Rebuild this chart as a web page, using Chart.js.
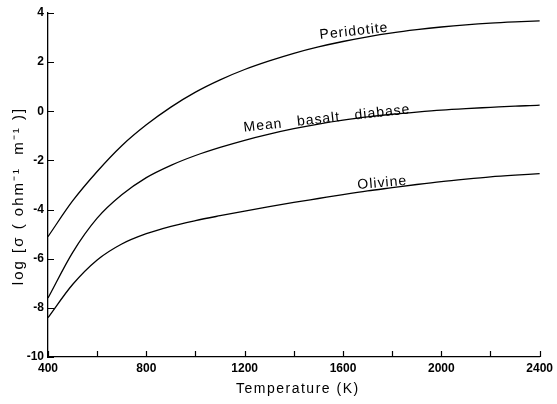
<!DOCTYPE html>
<html>
<head>
<meta charset="utf-8">
<script src="https://cdn.jsdelivr.net/npm/chart.js@4.4.1/dist/chart.umd.min.js"></script>
<style>
  html, body { margin: 0; padding: 0; background: #fff; }
  #wrap { width: 557px; height: 404px; }
</style>
</head>
<body>
<div id="wrap"><canvas id="condChart"></canvas></div>
<script>
// Temperature (K) and log conductivity
var temps = [400, 500, 600, 700, 800, 900, 1000, 1100, 1200, 1300, 1400, 1500, 1600, 1700, 1800, 1900, 2000, 2100, 2200, 2300, 2400, 2430];
var peridotite = [-5.1, -3.65, -2.45, -1.4, -0.55, 0.17, 0.78, 1.28, 1.7, 2.05, 2.36, 2.62, 2.84, 3.03, 3.19, 3.32, 3.43, 3.52, 3.59, 3.64, 3.68, 3.69];
var basalt = [-7.6, -5.75, -4.35, -3.4, -2.7, -2.2, -1.8, -1.47, -1.18, -0.93, -0.71, -0.52, -0.36, -0.23, -0.12, -0.03, 0.05, 0.11, 0.16, 0.21, 0.25, 0.27];
var olivine = [-8.4, -7.05, -6.05, -5.4, -4.98, -4.68, -4.45, -4.25, -4.06, -3.88, -3.71, -3.55, -3.39, -3.24, -3.11, -2.98, -2.86, -2.76, -2.67, -2.6, -2.54, -2.52];

// curve labels: text, temperature, value (centre of text), angle (deg)
var curveLabels = [
  { text: "Peridotite", t: 1645, v: 3.25, angle: -6.3 },
  { text: "Mean   basalt   diabase", t: 1535, v: -0.3, angle: -6.3 },
  { text: "Olivine", t: 1760, v: -2.92, angle: -5 }
];

var xTitle = "Temperature (K)";
var yTitle = "log [σ ( ohm⁻¹  m⁻¹ )]";

function toPoints(vals) {
  return temps.map(function (t, i) { return { x: t, y: vals[i] }; });
}

var fontFam = "'Liberation Sans', Arial, sans-serif";
var tickFont = { family: fontFam, size: 12, weight: 'bold' };

// inward tick marks, curve names and axis titles
var extras = {
  id: 'extras',
  afterDraw: function (chart) {
    var c = chart.ctx, xs = chart.scales.x, ys = chart.scales.y;
    var area = chart.chartArea;
    c.save();
    c.strokeStyle = '#000';
    c.lineWidth = 1.2;
    c.beginPath();
    xs.ticks.forEach(function (tk) {
      var px = Math.round(xs.getPixelForValue(tk.value)) + 0.5;
      c.moveTo(px, area.bottom);
      c.lineTo(px, area.bottom - 6);
    });
    ys.ticks.forEach(function (tk) {
      var py = Math.round(ys.getPixelForValue(tk.value)) + 0.5;
      c.moveTo(area.left, py);
      c.lineTo(area.left + 6, py);
    });
    c.stroke();

    c.fillStyle = '#000';
    c.font = "14px " + fontFam;
    c.letterSpacing = '1px';
    c.textAlign = 'center';
    c.textBaseline = 'middle';
    curveLabels.forEach(function (lb) {
      c.save();
      c.translate(xs.getPixelForValue(lb.t), ys.getPixelForValue(lb.v));
      c.rotate(lb.angle * Math.PI / 180);
      c.fillText(lb.text, 0, 0);
      c.restore();
    });

    c.letterSpacing = '1.5px';
    c.fillText(xTitle, (area.left + area.right) / 2 + 4, 389);
    c.letterSpacing = '2px';
    c.font = "15px " + fontFam;
    c.save();
    c.translate(19, 196);
    c.rotate(-Math.PI / 2);
    c.fillText(yTitle, 0, 0);
    c.restore();
    c.restore();
  }
};

var ctx = document.getElementById("condChart");

var condChart = new Chart(ctx, {
  type: 'line',
  data: {
    datasets: [
      { data: toPoints(peridotite), label: "Peridotite" },
      { data: toPoints(basalt), label: "Mean basalt diabase" },
      { data: toPoints(olivine), label: "Olivine" }
    ]
  },
  options: {
    responsive: true,
    maintainAspectRatio: false,
    animation: false,
    layout: { padding: { top: 13, right: 12, left: 0, bottom: 0 } },
    elements: {
      point: { radius: 0 },
      line: { borderColor: '#000', borderWidth: 1.3, fill: false, cubicInterpolationMode: 'monotone' }
    },
    datasets: { line: { clip: false } },
    plugins: { legend: { display: false }, tooltip: { enabled: false } },
    scales: {
      x: {
        type: 'linear',
        min: 400,
        max: 2400,
        border: { display: true, color: '#000', width: 1.3 },
        grid: { display: false, drawTicks: false },
        ticks: {
          stepSize: 200,
          color: '#000',
          font: tickFont,
          padding: 4,
          maxRotation: 0,
          autoSkip: false,
          callback: function (v) { return v % 400 === 0 ? String(v) : ''; }
        },
        afterFit: function (s) { s.height = 47; }
      },
      y: {
        min: -10,
        max: 4,
        border: { display: true, color: '#000', width: 1.3 },
        grid: { display: false, drawTicks: false },
        ticks: { stepSize: 2, color: '#000', font: tickFont, padding: 4 },
        afterFit: function (s) { s.width = 48; }
      }
    }
  },
  plugins: [extras]
});
</script>
</body>
</html>
